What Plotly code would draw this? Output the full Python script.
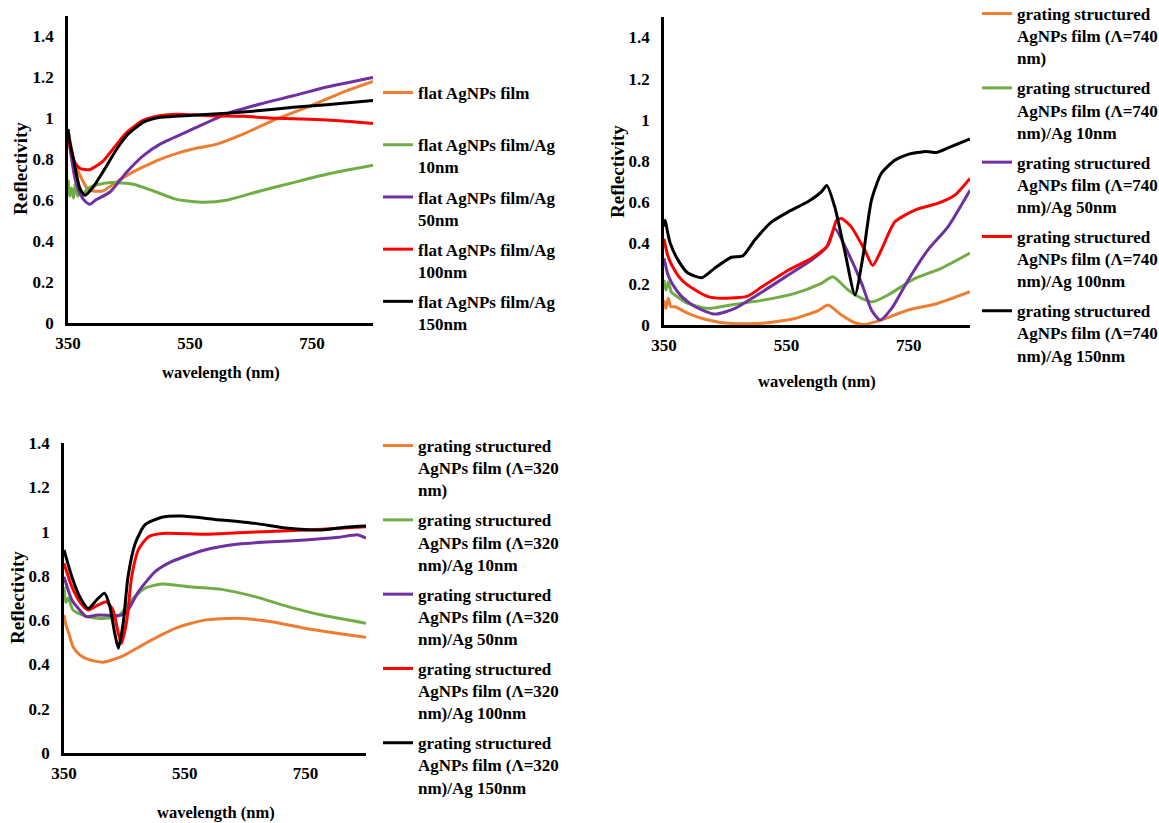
import plotly.graph_objects as go

# ---------------- data ----------------
colors = ["#ED7D31", "#70AD47", "#7030A0", "#FF0000", "#000000"]

# Panel 1: flat films
p1_names = ["flat AgNPs film<br> ", "flat AgNPs film/Ag<br>10nm", "flat AgNPs film/Ag<br>50nm",
            "flat AgNPs film/Ag<br>100nm", "flat AgNPs film/Ag<br>150nm"]
p1_wl_orange = [350, 355, 360, 370, 381, 391, 407, 425, 446, 475, 501, 530, 555, 594, 637, 692, 747, 801, 850]
p1_r_orange = [0.93, 0.86, 0.79, 0.72, 0.66, 0.645, 0.645, 0.68, 0.72, 0.765, 0.80, 0.83, 0.85, 0.874, 0.923, 0.997, 1.06, 1.128, 1.18]
p1_wl_green = [350, 353, 356, 359, 362, 366, 370, 375, 380, 391, 419, 457, 490, 528, 572, 610, 665, 719, 774, 850]
p1_r_green = [0.70, 0.62, 0.66, 0.61, 0.68, 0.62, 0.66, 0.62, 0.65, 0.67, 0.686, 0.678, 0.645, 0.604, 0.59, 0.60, 0.645, 0.686, 0.727, 0.771]
p1_wl_purple = [350, 355, 362, 370, 378, 386, 395, 419, 446, 473, 501, 555, 610, 665, 719, 774, 850]
p1_r_purple = [0.93, 0.82, 0.70, 0.63, 0.595, 0.58, 0.60, 0.64, 0.737, 0.817, 0.874, 0.948, 1.022, 1.07, 1.11, 1.153, 1.2]
p1_wl_red = [350, 355, 362, 370, 378, 386, 407, 430, 446, 473, 501, 528, 583, 637, 692, 747, 801, 850]
p1_r_red = [0.915, 0.84, 0.78, 0.755, 0.75, 0.75, 0.79, 0.874, 0.93, 0.99, 1.013, 1.02, 1.013, 1.01, 1.0, 0.995, 0.987, 0.975]
p1_wl_black = [350, 354, 359, 365, 370, 378, 391, 407, 430, 446, 473, 501, 555, 610, 665, 719, 774, 850]
p1_r_black = [0.948, 0.87, 0.80, 0.71, 0.653, 0.624, 0.663, 0.737, 0.85, 0.915, 0.98, 1.005, 1.015, 1.025, 1.038, 1.054, 1.066, 1.087]

# Panel 2: grating 740 nm
p2_names = ["grating structured<br>AgNPs film (Λ=740<br>nm)",
            "grating structured<br>AgNPs film (Λ=740<br>nm)/Ag 10nm",
            "grating structured<br>AgNPs film (Λ=740<br>nm)/Ag 50nm",
            "grating structured<br>AgNPs film (Λ=740<br>nm)/Ag 100nm",
            "grating structured<br>AgNPs film (Λ=740<br>nm)/Ag 150nm"]
p2_wl_orange = [350, 353, 357, 361, 368, 389, 422, 455, 510, 564, 602, 618, 640, 662, 678, 705, 749, 797, 850]
p2_r_orange = [0.12, 0.08, 0.13, 0.09, 0.089, 0.057, 0.024, 0.008, 0.008, 0.032, 0.07, 0.097, 0.049, 0.011, 0.003, 0.024, 0.073, 0.105, 0.162]
p2_wl_green = [350, 353, 357, 362, 368, 389, 422, 466, 510, 564, 607, 626, 651, 673, 691, 716, 760, 803, 850]
p2_r_green = [0.22, 0.17, 0.21, 0.16, 0.146, 0.105, 0.081, 0.101, 0.12, 0.154, 0.203, 0.235, 0.17, 0.13, 0.113, 0.146, 0.227, 0.276, 0.35]
p2_wl_purple = [350, 356, 363, 379, 401, 433, 466, 498, 553, 591, 616, 629, 651, 673, 689, 703, 722, 749, 781, 814, 850]
p2_r_purple = [0.325, 0.25, 0.203, 0.138, 0.089, 0.053, 0.081, 0.138, 0.243, 0.316, 0.381, 0.47, 0.35, 0.203, 0.073, 0.024, 0.081, 0.219, 0.365, 0.478, 0.656]
p2_wl_red = [350, 356, 363, 379, 401, 422, 444, 487, 510, 553, 591, 618, 632, 640, 656, 678, 691, 705, 727, 760, 797, 825, 850]
p2_r_red = [0.42, 0.34, 0.29, 0.219, 0.17, 0.138, 0.13, 0.141, 0.186, 0.267, 0.325, 0.389, 0.51, 0.519, 0.478, 0.365, 0.29, 0.365, 0.502, 0.56, 0.592, 0.632, 0.714]
p2_wl_black = [350, 352, 356, 360, 373, 389, 412, 433, 460, 479, 498, 526, 553, 585, 607, 616, 629, 645, 662, 675, 689, 705, 727, 749, 779, 795, 817, 850]
p2_r_black = [0.48, 0.51, 0.45, 0.40, 0.316, 0.253, 0.23, 0.277, 0.33, 0.337, 0.413, 0.502, 0.551, 0.60, 0.648, 0.68, 0.575, 0.365, 0.146, 0.332, 0.608, 0.738, 0.802, 0.831, 0.845, 0.84, 0.866, 0.906]

# Panel 3: grating 320 nm
p3_names = ["grating structured<br>AgNPs film (Λ=320<br>nm)",
            "grating structured<br>AgNPs film (Λ=320<br>nm)/Ag 10nm",
            "grating structured<br>AgNPs film (Λ=320<br>nm)/Ag 50nm",
            "grating structured<br>AgNPs film (Λ=320<br>nm)/Ag 100nm",
            "grating structured<br>AgNPs film (Λ=320<br>nm)/Ag 150nm"]
p3_wl_orange = [350, 353, 358, 365, 376, 390, 414, 445, 490, 534, 583, 639, 694, 749, 804, 850]
p3_r_orange = [0.623, 0.58, 0.54, 0.48, 0.443, 0.423, 0.41, 0.435, 0.503, 0.563, 0.60, 0.608, 0.593, 0.563, 0.54, 0.523]
p3_wl_green = [350, 353, 357, 365, 387, 417, 440, 462, 484, 512, 556, 611, 666, 721, 777, 850]
p3_r_green = [0.751, 0.68, 0.70, 0.646, 0.616, 0.608, 0.619, 0.691, 0.744, 0.763, 0.751, 0.739, 0.706, 0.661, 0.623, 0.586]
p3_wl_purple = [350, 363, 376, 387, 406, 445, 456, 473, 501, 528, 583, 639, 694, 749, 804, 837, 850]
p3_r_purple = [0.796, 0.691, 0.646, 0.616, 0.623, 0.623, 0.646, 0.728, 0.819, 0.864, 0.917, 0.944, 0.954, 0.962, 0.974, 0.985, 0.97]
p3_wl_red = [350, 363, 376, 390, 406, 420, 431, 440, 445, 454, 462, 473, 490, 517, 583, 639, 721, 777, 850]
p3_r_red = [0.857, 0.751, 0.683, 0.646, 0.668, 0.683, 0.646, 0.54, 0.495, 0.60, 0.796, 0.917, 0.977, 0.992, 0.988, 0.995, 1.004, 1.01, 1.022]
p3_wl_black = [350, 363, 376, 390, 404, 417, 426, 434, 440, 448, 456, 468, 484, 512, 545, 600, 666, 721, 777, 815, 850]
p3_r_black = [0.917, 0.796, 0.706, 0.653, 0.691, 0.722, 0.661, 0.54, 0.473, 0.586, 0.796, 0.947, 1.03, 1.065, 1.07, 1.055, 1.037, 1.015, 1.007, 1.02, 1.025]

x_tickvals = [350, 550, 750]
y_tickvals = [0, 0.2, 0.4, 0.6, 0.8, 1.0, 1.2, 1.4]
y_ticktext = ["0", "0.2", "0.4", "0.6", "0.8", "1", "1.2", "1.4"]
x_title = "wavelength (nm)"
y_title = "Reflectivity"

panels = [
    (p1_names, [(p1_wl_orange, p1_r_orange), (p1_wl_green, p1_r_green), (p1_wl_purple, p1_r_purple),
                (p1_wl_red, p1_r_red), (p1_wl_black, p1_r_black)]),
    (p2_names, [(p2_wl_orange, p2_r_orange), (p2_wl_green, p2_r_green), (p2_wl_purple, p2_r_purple),
                (p2_wl_red, p2_r_red), (p2_wl_black, p2_r_black)]),
    (p3_names, [(p3_wl_orange, p3_r_orange), (p3_wl_green, p3_r_green), (p3_wl_purple, p3_r_purple),
                (p3_wl_red, p3_r_red), (p3_wl_black, p3_r_black)]),
]

# ---------------- figure ----------------
W, H = 1159, 823
FONT = "Liberation Serif"

fig = go.Figure()
axis_ids = ["", "2", "3"]
legend_ids = ["legend", "legend2", "legend3"]
for pi, (names, series) in enumerate(panels):
    for si, (wl, r) in enumerate(series):
        fig.add_trace(go.Scatter(
            x=wl, y=r, mode="lines", name=names[si],
            line=dict(color=colors[si], width=3, shape="spline", smoothing=0.6),
            xaxis="x" + axis_ids[pi], yaxis="y" + axis_ids[pi],
            legend=legend_ids[pi], legendgroup=f"p{pi}s{si}",
        ))

def px_x(p):
    return p / W

def px_y(p):
    return 1 - p / H

# plot-area pixel boxes (left, right, top, bottom)
boxes = [(68, 373, 16, 323), (664, 970, 17, 325), (64, 366, 443, 753)]
yranges = [[0, 1.5], [0, 1.5], [0, 1.4]]

layout = dict(
    width=W, height=H,
    margin=dict(l=0, r=0, t=0, b=0, autoexpand=False),
    paper_bgcolor="white", plot_bgcolor="white",
    font=dict(family=FONT, color="black", size=16, weight="bold"),
    showlegend=True,
)
for i, (l, r, t, b) in enumerate(boxes):
    ax = axis_ids[i]
    layout["xaxis" + ax] = dict(
        domain=[px_x(l), px_x(r)], range=[350, 850], anchor="y" + ax,
        tickvals=x_tickvals, showgrid=False, zeroline=False,
        showline=True, linecolor="black", linewidth=2.5, ticks="",
        ticklabelstandoff=3, tickfont=dict(family=FONT, size=17, weight="bold"),
    )
    layout["yaxis" + ax] = dict(
        domain=[px_y(b), px_y(t)], range=yranges[i], anchor="x" + ax,
        tickvals=y_tickvals, ticktext=y_ticktext, showgrid=False, zeroline=False,
        showline=True, linecolor="black", linewidth=2.5, ticks="",
        ticklabelstandoff=8, tickfont=dict(family=FONT, size=17, weight="bold"),
    )

legend_pos = [(378, 75), (977, -4), (378, 428)]
for i, (lx, ly) in enumerate(legend_pos):
    layout[legend_ids[i]] = dict(
        x=px_x(lx), y=px_y(ly), xanchor="left", yanchor="top", valign="top",
        bgcolor="rgba(0,0,0,0)", tracegroupgap=5,
        font=dict(family=FONT, size=17, color="black", weight="bold"),
    )

annotations = []
xt_pos = [(221, 373), (817, 381), (216, 812)]
yt_pos = [(20, 169), (617, 172), (17, 598)]
for (ax_, ay_) in xt_pos:
    annotations.append(dict(text=x_title, x=px_x(ax_), y=px_y(ay_), xref="paper", yref="paper",
                            showarrow=False, xanchor="center", yanchor="middle",
                            font=dict(family=FONT, size=16.5, weight="bold")))
for (ax_, ay_) in yt_pos:
    annotations.append(dict(text=y_title, x=px_x(ax_), y=px_y(ay_), xref="paper", yref="paper",
                            showarrow=False, xanchor="center", yanchor="middle", textangle=-90,
                            font=dict(family=FONT, size=19, weight="bold")))
layout["annotations"] = annotations

fig.update_layout(**layout)
fig.write_html("out.html", config={"displayModeBar": False},
               post_script="document.body.style.margin='0';document.body.style.overflow='hidden';")
